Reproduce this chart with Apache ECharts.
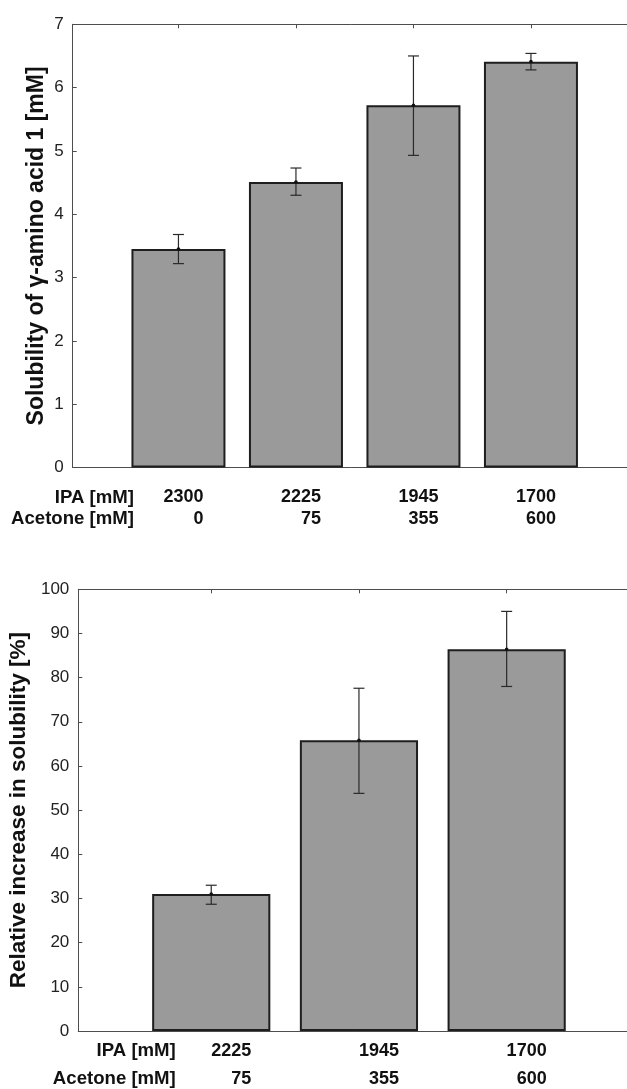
<!DOCTYPE html>
<html>
<head>
<meta charset="utf-8">
<script src="https://cdn.jsdelivr.net/npm/echarts@6/dist/echarts.min.js"></script>
<style>
html,body{margin:0;padding:0;background:#fff;}
#chart{width:627px;height:1089px;}
</style>
</head>
<body>
<div id="chart"></div>
<script>
// ---- data ----
const ipaTop = ['2300', '2225', '1945', '1700'];
const acetoneTop = ['0', '75', '355', '600'];
const solubility = [3.45, 4.51, 5.72, 6.41];
const solubilityLow = [3.22, 4.30, 4.93, 6.28];
const solubilityHigh = [3.68, 4.73, 6.50, 6.54];
const yTicksTop = [0, 1, 2, 3, 4, 5, 6, 7];

const ipaBottom = ['2225', '1945', '1700'];
const acetoneBottom = ['75', '355', '600'];
const increase = [31.0, 65.8, 86.4];
const increaseLow = [28.7, 53.8, 78.0];
const increaseHigh = [33.0, 77.6, 95.0];
const yTicksBottom = [0, 10, 20, 30, 40, 50, 60, 70, 80, 90, 100];

// ---- build ----
const FONT = '"Liberation Sans", Arial, Helvetica, sans-serif';
const AXIS_COLOR = '#4d4d4d';
const slots = arr => arr.map((_, i) => i + 1);

function xAxesFor(gridIndex, ipa, ace, xmax, labelCfg) {
  const pos = slots(ipa);
  const common = {
    type: 'value', gridIndex: gridIndex, min: 0.1, max: xmax,
    splitLine: { show: false },
    axisLine: { show: true, onZero: false, lineStyle: { color: AXIS_COLOR, width: 1 } },
    axisTick: { show: true, inside: true, length: 4, customValues: pos, lineStyle: { color: AXIS_COLOR } }
  };
  const rowStyle = { fontSize: 18, fontWeight: 'bold', fontFamily: FONT, color: '#111',
                     width: labelCfg.width, align: 'right', lineHeight: labelCfg.lineHeight };
  const headStyle = { fontSize: 18.6, fontWeight: 'bold', fontFamily: FONT, color: '#111',
                      align: 'right', lineHeight: labelCfg.lineHeight };
  return [
    Object.assign({}, common, {
      position: 'bottom',
      axisLabel: {
        show: true, customValues: pos, margin: labelCfg.margin,
        formatter: v => '{a|' + ipa[v - 1] + '}\n{b|' + ace[v - 1] + '}',
        rich: { a: rowStyle, b: rowStyle }
      },
      name: '{a|IPA [mM]}\n{a|Acetone [mM]}',
      nameLocation: 'start',
      nameGap: labelCfg.nameGap,
      nameMoveOverlap: false,
      nameTextStyle: {
        align: 'right', verticalAlign: 'top', padding: [labelCfg.margin, 0, 0, 0],
        rich: { a: headStyle }
      }
    }),
    Object.assign({}, common, {
      position: 'top',
      axisLabel: { show: false }
    })
  ];
}

function yAxisFor(gridIndex, ticks, name, nameGap, nameSize) {
  return {
    type: 'value', gridIndex: gridIndex,
    min: ticks[0], max: ticks[ticks.length - 1], interval: ticks[1] - ticks[0],
    splitLine: { show: false },
    axisLine: { show: true, lineStyle: { color: AXIS_COLOR, width: 1 } },
    axisTick: { show: true, inside: true, length: 4, lineStyle: { color: AXIS_COLOR } },
    axisLabel: { show: true, margin: 9, fontSize: 17, fontFamily: FONT, color: '#222' },
    name: name, nameLocation: 'middle', nameRotate: 90, nameGap: nameGap,
    nameMoveOverlap: false,
    nameTextStyle: { fontSize: nameSize, fontWeight: 'bold', fontFamily: FONT, color: '#111' }
  };
}

function barSeries(idx, values) {
  return {
    type: 'bar', xAxisIndex: idx * 2, yAxisIndex: idx,
    data: values.map((v, i) => [i + 1, v]),
    barWidth: '80%',
    itemStyle: { color: '#9a9a9a', borderColor: '#1e1e1e', borderWidth: 2 },
    emphasis: { disabled: true }, silent: true, z: 2
  };
}

function errorSeries(idx, values, low, high) {
  return {
    type: 'custom', xAxisIndex: idx * 2, yAxisIndex: idx,
    data: values.map((v, i) => [i + 1, v, low[i], high[i]]),
    silent: true, z: 5,
    renderItem: function (params, api) {
      const x = api.value(0);
      const pm = api.coord([x, api.value(1)]);
      const pl = api.coord([x, api.value(2)]);
      const ph = api.coord([x, api.value(3)]);
      const cap = 5.5;
      const ls = { stroke: '#2a2a2a', lineWidth: 1.2 };
      return {
        type: 'group',
        children: [
          { type: 'line', shape: { x1: pl[0], y1: pl[1], x2: ph[0], y2: ph[1] }, style: ls },
          { type: 'line', shape: { x1: ph[0] - cap, y1: ph[1], x2: ph[0] + cap, y2: ph[1] }, style: ls },
          { type: 'line', shape: { x1: pl[0] - cap, y1: pl[1], x2: pl[0] + cap, y2: pl[1] }, style: ls },
          { type: 'circle', shape: { cx: pm[0], cy: pm[1], r: 1.8 }, style: { fill: '#111' } }
        ]
      };
    }
  };
}

const option = {
  animation: false,
  backgroundColor: '#ffffff',
  textStyle: { fontFamily: FONT },
  grid: [
    { left: 72.7, top: 24.3, right: -9.7, bottom: 1089 - 467.5, containLabel: false, outerBoundsMode: 'none' },
    { left: 78.3, top: 589.3, right: -12.6, bottom: 1089 - 1031, containLabel: false, outerBoundsMode: 'none' }
  ],
  xAxis: [].concat(
    xAxesFor(0, ipaTop, acetoneTop, 4.9, { width: 50, lineHeight: 21.8, margin: 19, nameGap: -61.3 }),
    xAxesFor(1, ipaBottom, acetoneBottom, 3.9, { width: 80, lineHeight: 28, margin: 6, nameGap: -97.5 })
  ),
  yAxis: [
    yAxisFor(0, yTicksTop, 'Solubility of γ-amino acid 1 [mM]', 25, 23),
    yAxisFor(1, yTicksBottom, 'Relative increase in solubility [%]', 48, 22.5)
  ],
  series: [
    barSeries(0, solubility),
    errorSeries(0, solubility, solubilityLow, solubilityHigh),
    barSeries(1, increase),
    errorSeries(1, increase, increaseLow, increaseHigh)
  ]
};

const chart = echarts.init(document.getElementById('chart'), null, { renderer: 'canvas' });
chart.setOption(option);
</script>
</body>
</html>
